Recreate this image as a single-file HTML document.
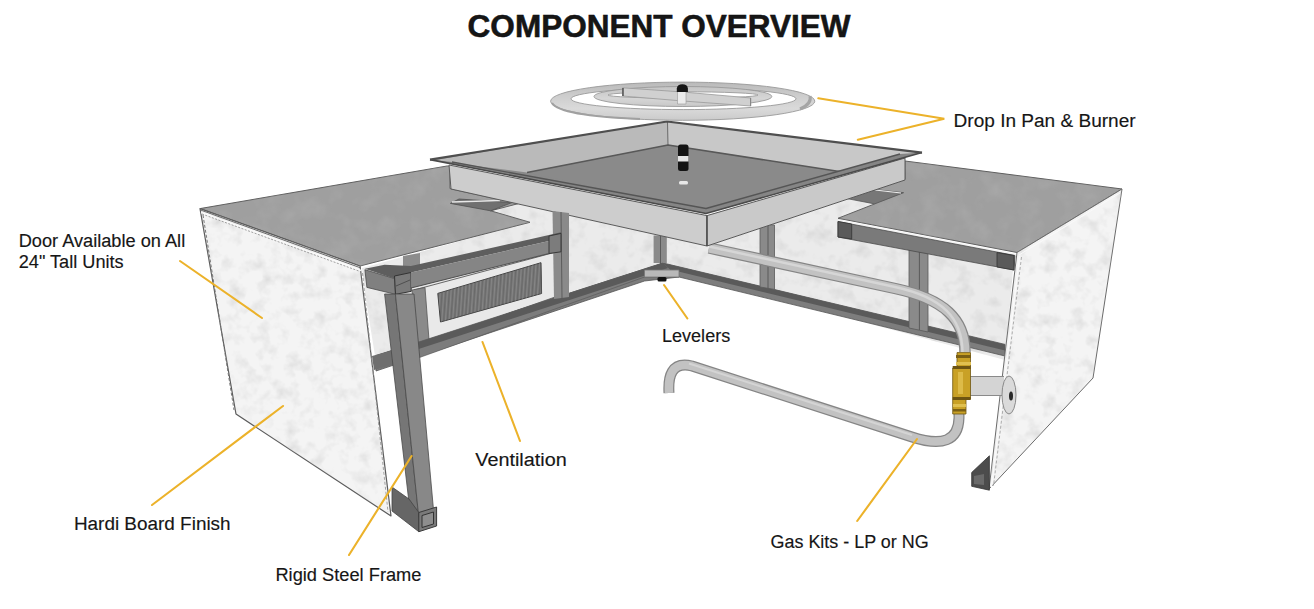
<!DOCTYPE html>
<html><head><meta charset="utf-8">
<style>
html,body{margin:0;padding:0;background:#fff;width:1314px;height:609px;overflow:hidden}
svg{display:block}
text{font-family:"Liberation Sans",sans-serif}
</style></head>
<body>
<svg width="1314" height="609" viewBox="0 0 1314 609">
<defs>
<filter id="mot" x="0" y="0" width="1" height="1">
<feTurbulence type="fractalNoise" baseFrequency="0.07" numOctaves="3" seed="7" result="n"/>
<feColorMatrix in="n" type="matrix" values="0 0 0 0 0.55  0 0 0 0 0.55  0 0 0 0 0.55  -1.0 0 0 0 0.54" result="a"/>
<feComposite in="a" in2="SourceAlpha" operator="in"/>
</filter>
<filter id="mot2" x="0" y="0" width="1" height="1">
<feTurbulence type="fractalNoise" baseFrequency="0.05" numOctaves="3" seed="11" result="n"/>
<feColorMatrix in="n" type="matrix" values="0 0 0 0 0.45  0 0 0 0 0.45  0 0 0 0 0.45  -0.9 0 0 0 0.5" result="a"/>
<feComposite in="a" in2="SourceAlpha" operator="in"/>
</filter>
<pattern id="louv" patternUnits="userSpaceOnUse" width="3.6" height="40" patternTransform="rotate(4)"><rect x="0" width="1.2" height="40" fill="#5e5e5e" opacity="0.55"/><rect x="1.8" width="1" height="40" fill="#9a9a9a" opacity="0.45"/></pattern>
<linearGradient id="ringg" x1="0" y1="0" x2="0" y2="1"><stop offset="0" stop-color="#b9b9b9"/><stop offset="0.35" stop-color="#cdcdcd"/><stop offset="0.7" stop-color="#dadada"/><stop offset="1" stop-color="#cacaca"/></linearGradient>
<linearGradient id="ringg2" x1="0" y1="0" x2="0" y2="1"><stop offset="0" stop-color="#c4c4c4"/><stop offset="0.6" stop-color="#d6d6d6"/><stop offset="1" stop-color="#c8c8c8"/></linearGradient>
</defs>
<rect width="1314" height="609" fill="#fff"/>

<!-- ============ ILLUSTRATION ============ -->
<g id="art" stroke-linejoin="round">
<!-- back walls -->
<polygon fill="#ebebeb" points="362,268 530,222 490,211 450,203 451,189 707,246 904,181 906,182 903,192 838,221 838,237 1013,270 1005,360 668,270 645,276 376,362 366,300"/>
<polygon fill="#000" filter="url(#mot)" points="362,268 530,222 490,211 450,203 451,189 707,246 904,181 906,182 903,192 838,221 838,237 1013,270 1005,360 668,270 645,276 376,362 366,300"/>
<!-- back frame: left bottom rail -->
<polygon fill="#7c7c7c" stroke="#555" stroke-width="0.8" points="376,355.5 663,263 679,277 644.5,281 376,371"/>
<polygon fill="#5c5c5c" points="376,355.5 663,263 668,268 376,362.5"/>
<!-- right bottom rail -->
<polygon fill="#7d7d7d" stroke="#555" stroke-width="0.8" points="663,263 1005,344.4 1005,356 679,277"/>
<polygon fill="#5a5a5a" points="663,263 1005,344.4 1005,350.5 668,269"/>
<!-- back posts -->
<polygon fill="#8a8a8a" points="653.6,235.5 666.8,235.5 666.8,263 653.6,263"/>
<line x1="660.5" y1="236" x2="660.5" y2="264" stroke="#5a5a5a" stroke-width="1"/>
<polygon fill="#8a8a8a" stroke="#5a5a5a" stroke-width="0.8" points="760,224 774.5,225 774.5,289.4 760,287"/>
<line x1="768" y1="225" x2="768" y2="291" stroke="#5a5a5a" stroke-width="1"/>
<polygon fill="#8a8a8a" stroke="#5a5a5a" stroke-width="0.8" points="909,250 928,250 928,332 909,328"/>
<line x1="919.4" y1="250" x2="919.4" y2="330" stroke="#5a5a5a" stroke-width="1"/>
<!-- leveler -->


<!-- upper pipe -->
<path d="M709,248 L895,288.5 C945,299 965,320 965,352" fill="none" stroke="#858585" stroke-width="11.5"/>
<path d="M709,248 L895,288.5 C945,299 965,320 965,352" fill="none" stroke="#c2c2c2" stroke-width="9"/>
<path d="M709,246.5 L895,287 C943,297.5 962,318 962.5,352" fill="none" stroke="#d6d6d6" stroke-width="2.5"/>
<!-- left cabinet top -->
<polygon fill="#9f9f9f" stroke="#5f5f5f" stroke-width="1" points="200,208.6 447,166 450,166 450,188.6 518,203.7 490.6,210.8 530,222.3 360,266"/>
<polygon fill="#000" filter="url(#mot2)" points="200,208.6 447,166 450,166 450,188.6 518,203.7 490.6,210.8 530,222.3 360,266"/>
<polygon fill="#707070" stroke="#505050" stroke-width="0.8" points="459,199 512,202.6 490.6,210.8 450.4,203.4"/>
<line x1="452" y1="202" x2="500" y2="200.5" stroke="#e8e8e8" stroke-width="1.3"/>
<!-- left side panel -->
<polygon fill="#f4f4f4" stroke="#5a5a5a" stroke-width="1.2" points="200,208.6 360,266 391,516 236,414"/>
<polygon fill="#000" filter="url(#mot)" points="200,208.6 360,266 391,516 236,414"/>
<polyline points="200.5,210 361,268" fill="none" stroke="#6a6a6a" stroke-width="1"/>
<polyline points="201,212.5 361,270.5" fill="none" stroke="#fafafa" stroke-width="1.4"/>
<polyline points="202,214 361.5,272" fill="none" stroke="#8a8a8a" stroke-width="0.8" stroke-dasharray="2,1.5"/>
<polyline points="203,215 234,410" fill="none" stroke="#777" stroke-width="1" stroke-dasharray="3,2"/>
<polyline points="362.5,273 388,512" fill="none" stroke="#999" stroke-width="0.9" stroke-dasharray="3,2"/>
<!-- right cabinet top -->
<polygon fill="#9f9f9f" stroke="#5f5f5f" stroke-width="1" points="838,218.3 874.7,203.9 873.4,189.4 880,187 905,179 905,161 1122,189 1017,252.5"/>
<polygon fill="#000" filter="url(#mot2)" points="838,218.3 874.7,203.9 873.4,189.4 880,187 905,179 905,161 1122,189 1017,252.5"/>
<line x1="840" y1="220.5" x2="1016" y2="254.5" stroke="#f4f4f4" stroke-width="1.3"/>
<polygon fill="#777" stroke="#555" stroke-width="0.8" points="847,198.6 873.4,189.4 903.6,192.7 874.7,203.9"/>
<line x1="875" y1="190" x2="901" y2="193" stroke="#eee" stroke-width="1.2"/>
<!-- right front beam -->
<polygon fill="#7a7a7a" stroke="#4a4a4a" stroke-width="0.8" points="838,221.5 1015,255.5 1014,270 838,237"/>
<polygon fill="#5a5a5a" stroke="#333" stroke-width="0.8" points="838,221.5 851.7,224 851.7,239 838,237"/>
<polygon fill="#5a5a5a" stroke="#333" stroke-width="0.8" points="997,252.5 1014,255.5 1014,270 997,267"/>
<!-- right side panel -->
<polygon fill="#f4f4f4" stroke="#6a6a6a" stroke-width="1" points="1017,252.5 1122,189 1093,378 989,489"/>
<polygon fill="#000" filter="url(#mot)" points="1017,252.5 1122,189 1093,378 989,489"/>
<line x1="1019" y1="255" x2="1120" y2="193" stroke="#fafafa" stroke-width="1"/>
<line x1="1019.5" y1="256" x2="991.5" y2="487" stroke="#fafafa" stroke-width="1.3"/>
<line x1="1021.5" y1="257" x2="993.5" y2="486" stroke="#9a9a9a" stroke-width="0.8" stroke-dasharray="3,2"/>
<!-- right foot -->
<polygon fill="#4c4c4c" stroke="#333" stroke-width="0.8" points="971.7,472.5 989.4,455.8 989.4,490.2 971.7,486.3"/>
<polygon fill="#6a6a6a" points="974,476 984,474 984,485 974,484"/>
<!-- pan outer faces -->
<polygon fill="#cdcdcd" stroke="#5a5a5a" stroke-width="1" points="449,165 707,215.6 707,246 451,189"/>
<polygon fill="#c9c9c9" stroke="#5a5a5a" stroke-width="1" points="707,215.6 905,158 905,180 707,246"/>
<line x1="707" y1="216" x2="707" y2="246" stroke="#444" stroke-width="1.2"/>
<polygon fill="#8a8a8a" points="430,159.6 667,121.5 922,152.6 706,213.5"/>
<!-- inner walls -->
<polygon fill="#bababa" points="432,160.5 667,121.5 668,145 527,172.4"/>
<polygon fill="#c8c8c8" points="667,121.5 922,152.6 841,171.8 668,145"/>
<line x1="667.5" y1="122" x2="668" y2="145" stroke="#6a6a6a" stroke-width="1"/>
<!-- floor -->
<polygon fill="#8a8a8a" points="527,172.4 668,145 841,171.8 706,210"/>
<polyline points="527,172.4 668,145 841,171.8" fill="none" stroke="#585858" stroke-width="1.5"/>
<!-- flange front edges double line -->
<polygon fill="#858585" points="430,159.6 706,213.5 922,152.6 900,154 706,208.5 452,162"/>
<polyline points="430,159.6 706,213.5 922,152.6" fill="none" stroke="#4a4a4a" stroke-width="1.6"/>
<polyline points="452,162 706,208.5 900,154" fill="none" stroke="#555" stroke-width="1.3"/>
<polyline points="430,159.6 667,121.5 922,152.6" fill="none" stroke="#4f4f4f" stroke-width="2.2"/>
<!-- igniter on pan -->
<rect x="678" y="144.5" width="10.5" height="26.5" rx="2.5" fill="#141414"/>
<rect x="678" y="156" width="10.5" height="5.5" fill="#e6e6e6"/>
<rect x="679" y="181" width="9" height="3.5" rx="1.5" fill="#e8e8e8"/>
<!-- burner ring -->
<path fill-rule="evenodd" fill="url(#ringg)" stroke="#9a9a9a" stroke-width="0.9" d="M550.6,101.2 a132.1,19.1 0 1 0 264.2,0 a132.1,19.1 0 1 0 -264.2,0 Z M571,98.8 a112.5,10.8 0 1 0 225,0 a112.5,10.8 0 1 0 -225,0 Z"/>
<path d="M552,103 Q560,116 640,119" fill="none" stroke="#a0a0a0" stroke-width="2.2"/>
<path d="M810,96 Q812,104 800,109" fill="none" stroke="#a5a5a5" stroke-width="3"/>
<!-- inner ring -->
<path fill-rule="evenodd" fill="url(#ringg2)" stroke="#9a9a9a" stroke-width="0.9" d="M594,96.5 a88.9,10 0 1 0 177.8,0 a88.9,10 0 1 0 -177.8,0 Z M608,95 a75,3.2 0 1 0 150,0 a75,3.2 0 1 0 -150,0 Z"/>
<!-- spokes -->
<polygon fill="#d0d0d0" stroke="#999" stroke-width="0.8" points="622.6,87.8 683,92 750.8,98 750.8,106 683,101 622.6,96"/>
<line x1="623" y1="88" x2="623" y2="96" stroke="#444" stroke-width="1.3"/>
<line x1="750.5" y1="98" x2="750.5" y2="106" stroke="#888" stroke-width="1"/>
<rect x="677.5" y="91" width="8.5" height="13" fill="#ececec" stroke="#999" stroke-width="0.6"/>
<path d="M676.8,92 L676.8,88.5 Q677.5,84.3 682.3,84.3 Q687.4,84.3 687.9,88.5 L687.9,92 Z" fill="#161616"/>
<!-- left front frame -->
<!-- small block behind beam -->
<polygon fill="#8c8c8c" points="403,256 420,253 420,270 403,272"/>
<!-- side bottom rail visible between panel and leg -->
<polygon fill="#6e6e6e" points="372,356 394,350 396,364 374,370"/>
<!-- vent panel -->
<polygon fill="#e9e9e9" stroke="#666" stroke-width="1" points="414,290 556,252 558,296 418,345"/>
<polygon fill="#8a8a8a" stroke="#555" stroke-width="0.8" points="412,290 425,287.5 429,340 416,344"/>
<!-- louver -->
<polygon fill="#767676" stroke="#3f3f3f" stroke-width="1" points="437.8,293.4 541,262.7 541.6,293.5 440.5,322"/>
<polygon fill="url(#louv)" points="437.8,293.4 541,262.7 541.6,293.5 440.5,322"/>
<!-- front bottom rail -->
<polygon fill="#7c7c7c" stroke="#555" stroke-width="0.6" points="414,343.5 663,263 679,277 644.5,277 414,359.5"/>
<polygon fill="#5a5a5a" points="414,343.5 663,263 668,268 414,350.5"/>
<!-- leveler -->
<polygon fill="#b9b9b9" stroke="#777" stroke-width="0.8" points="644.5,270 679,270 679,277 644.5,277"/>
<rect x="657.5" y="277" width="9" height="4.5" rx="1.5" fill="#111"/>
<!-- vent right post -->
<polygon fill="#8a8a8a" points="552.5,211 569,213 569,297 554,299"/>
<line x1="561" y1="212" x2="562" y2="298" stroke="#5c5c5c" stroke-width="1"/>
<!-- front beam -->
<polygon fill="#5e5e5e" points="364.9,268.7 384.6,264.8 411,266 549,235 561,232.3 561,236 549,241 411,272.5 394.5,278.6"/>
<polygon fill="#808080" stroke="#4a4a4a" stroke-width="0.8" points="364.9,269.7 394.5,278.6 395.5,294.3 366.9,287.4"/>
<polygon fill="#7a7a7a" stroke="#333" stroke-width="1" points="394.5,276 411,272.5 411.2,291.4 395.5,294.3"/>
<line x1="396" y1="286" x2="410" y2="280" stroke="#444" stroke-width="0.8"/>
<polygon fill="#858585" points="411,272.5 549,241 549,253.5 411.2,288"/>
<line x1="411" y1="288" x2="549" y2="253.5" stroke="#4d4d4d" stroke-width="1"/>
<polygon fill="#7c7c7c" stroke="#3a3a3a" stroke-width="1" points="549,236 561,233.4 561,251.8 549,253.5"/>
<!-- leg -->
<polygon fill="#767676" stroke="#4a4a4a" stroke-width="0.8" points="384.6,294 395.4,294 418.8,517 410,511"/>
<polygon fill="#888" stroke="#4a4a4a" stroke-width="0.8" points="395.4,294 414,294 433.6,511 418.8,517"/>
<!-- foot -->
<polygon fill="#666" stroke="#444" stroke-width="0.8" points="392,487 409,499 418.8,512.5 418.8,531.7 392,511"/>
<polygon fill="#7a7a7a" stroke="#3a3a3a" stroke-width="1" points="418.8,512.5 436.6,507 436.6,526 418.8,531.7"/>
<polygon fill="#8e8e8e" stroke="#333" stroke-width="1" points="422,515.5 433.5,512 433.5,524 422,527.5"/>
<!-- lower pipe & valve -->
<path d="M669,393 C668,377 671,361 692,366 L912,437 Q958,452 959,418 L959,410" fill="none" stroke="#858585" stroke-width="11" stroke-linecap="butt"/>
<path d="M669,393 C668,377 671,361 692,366 L912,437 Q958,452 959,418 L959,410" fill="none" stroke="#c2c2c2" stroke-width="8.5" stroke-linecap="butt"/>
<path d="M689,363.5 L912,435" fill="none" stroke="#d4d4d4" stroke-width="2"/>
<!-- stub to panel -->
<path d="M969,386 L1004,386" stroke="#8a8a8a" stroke-width="20" fill="none"/>
<path d="M969,386 L1004,386" stroke="#d4d4d4" stroke-width="18" fill="none"/>
<ellipse cx="1009" cy="395" rx="7" ry="19" fill="#dadada" stroke="#8a8a8a" stroke-width="1"/>
<ellipse cx="1011" cy="396" rx="2" ry="4.5" fill="#2a2a2a"/>
<!-- valve -->
<polygon fill="#c9a126" stroke="#6e5512" stroke-width="0.8" points="957,352.6 970.5,352.6 970.5,368 970.5,399 966,399 966,414 952.7,414 952.7,399 952.7,368 957,368"/>
<rect x="956" y="355" width="15" height="3" fill="#7a5f14"/>
<rect x="956" y="362" width="15" height="3" fill="#e0c050"/>
<rect x="952.7" y="366" width="18" height="3" fill="#6e5512"/>
<rect x="952.7" y="397" width="18" height="3" fill="#6e5512"/>
<rect x="953" y="404" width="13" height="3" fill="#e0c050"/>
<rect x="953" y="409" width="13" height="2.5" fill="#7a5f14"/>
<rect x="958" y="372" width="5" height="22" fill="#e6c658" opacity="0.7"/>

</g>

<!-- ============ LEADER LINES ============ -->
<g stroke="#ecb22a" stroke-width="2.1" stroke-linecap="round" fill="none">
<polyline points="818.3,98.3 944.3,118.7 857.8,139.7"/>
<line x1="180" y1="261" x2="262" y2="318"/>
<line x1="283" y1="406" x2="152" y2="505"/>
<line x1="411.6" y1="456" x2="349" y2="555"/>
<line x1="482.5" y1="342" x2="520" y2="441"/>
<line x1="664" y1="285" x2="687.4" y2="318.5"/>
<line x1="917" y1="439" x2="857.2" y2="521"/>
</g>

<!-- ============ TEXT ============ -->
<g fill="#161616" stroke="#161616" stroke-width="0.15">
<text class="t" x="467.6" y="37.1" font-size="31.5" font-weight="bold" stroke="#0a0a0a" stroke-width="0.55" textLength="383" lengthAdjust="spacing">COMPONENT OVERVIEW</text>
<text class="t" x="953.6" y="127" font-size="18" textLength="182" lengthAdjust="spacingAndGlyphs">Drop In Pan &amp; Burner</text>
<text class="t" x="18.7" y="247.2" font-size="18" textLength="166.5" lengthAdjust="spacingAndGlyphs">Door Available on All</text>
<text class="t" x="18.7" y="268" font-size="18" textLength="105" lengthAdjust="spacingAndGlyphs">24" Tall Units</text>
<text class="t" x="662" y="342.3" font-size="18" textLength="68.2" lengthAdjust="spacingAndGlyphs">Levelers</text>
<text class="t" x="475.3" y="466.3" font-size="18" textLength="91.4" lengthAdjust="spacingAndGlyphs">Ventilation</text>
<text class="t" x="73.9" y="529.8" font-size="18" textLength="156.7" lengthAdjust="spacingAndGlyphs">Hardi Board Finish</text>
<text class="t" x="275.4" y="581" font-size="18" textLength="146.1" lengthAdjust="spacingAndGlyphs">Rigid Steel Frame</text>
<text class="t" x="770.5" y="547.8" font-size="18" textLength="158.2" lengthAdjust="spacingAndGlyphs">Gas Kits - LP or NG</text>
</g>
</svg>
</body></html>
